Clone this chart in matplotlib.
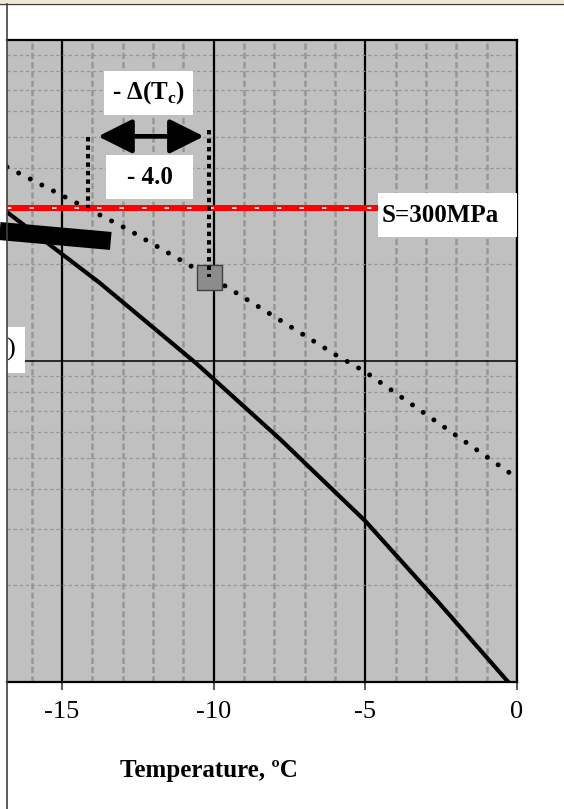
import numpy as np
import matplotlib
matplotlib.use("Agg")
import matplotlib.pyplot as plt
from matplotlib.patches import Rectangle
from matplotlib.lines import Line2D

plt.rcParams['font.family'] = ['Liberation Serif', 'DejaVu Serif']
plt.rcParams['lines.scale_dashes'] = False
plt.rcParams['mathtext.fontset'] = 'custom'
plt.rcParams['mathtext.rm'] = 'Liberation Serif:bold'
plt.rcParams['mathtext.bf'] = 'Liberation Serif:bold'

# data (temperature in C, stress in MPa)
solid_T = [-16.81, -13.75, -10.55, -7.81, -5.01, -2.54, -0.33, 0.0]
solid_S = [291, 175, 97.9, 57.1, 31.8, 17.5, 10.1, 9.4]

dotted_T = [-16.81, -12.86, -9.56, -5.97, -5.0, 0.0]
dotted_S = [402, 258, 170, 104.4, 92.5, 43.2]

stress_level = 300
Tc_ref = -14.14
Tc_shift = -10.14
marker_S = 183
guide_top_S = [500, 523]
arrow_T = [-13.81, -10.32]
arrow_S = 501

bar_T = [-17.05, -13.39]
bar_S = [254, 236.6]

xticks = [-15, -10, -5, 0]

W, H = 564, 809
fig = plt.figure(figsize=(W / 100, H / 100), dpi=100)
# plot area in pixels: x 7..517, y 40..682
ax = fig.add_axes([7 / W, (H - 682) / H, 510 / W, 642 / H])
ax.set_facecolor('#c0c0c0')
ax.set_yscale('log')
ax.set_xlim(-16.81, 0)
ax.set_ylim(10, 1000)

ax.set_xticks(xticks)
ax.set_xticks(np.arange(-16, 0, 1), minor=True)
ax.set_xticklabels([str(t) for t in xticks], fontsize=19)
ax.tick_params(axis='x', which='major', direction='out', length=5.5, width=1.2,
               pad=8, color='#404040')
ax.tick_params(axis='x', which='minor', length=0)
ax.tick_params(axis='y', which='both', left=False, labelleft=False)

ax.grid(which='major', axis='x', color='black', lw=1.6)
ax.grid(which='major', axis='y', color='black', lw=1.1)
ax.grid(which='minor', axis='x', color='#969696', lw=1.8, linestyle=(0, (4.5, 2.2)))
ax.grid(which='minor', axis='y', color='#969696', lw=0.9, linestyle=(0, (2.4, 2.0)))
ax.set_axisbelow(True)

for side in ['top', 'right', 'bottom']:
    ax.spines[side].set_linewidth(1.6)
    ax.spines[side].set_color('black')
ax.spines['left'].set_visible(False)

# curves
ax.plot(solid_T, solid_S, color='black', lw=3.0, solid_capstyle='butt',
        solid_joinstyle='round', zorder=3)
ax.plot(dotted_T, dotted_S, color='black', lw=3.6, linestyle=(0, (0.01, 9.4)),
        dash_capstyle='round', zorder=3)

# stress level line
ax.axhline(stress_level, color='red', lw=4.3, zorder=4)
ax.axhline(stress_level, color='white', lw=1.3, linestyle=(0, (3.2, 13)), zorder=4)

# shift marker and guide lines
ax.plot([Tc_shift], [marker_S], marker='s', ms=18, mfc='#8c8c8c', mec='#404040',
        mew=1.0, zorder=5)
ax.plot([Tc_ref, Tc_ref], [guide_top_S[0], stress_level], color='black', lw=2.9,
        linestyle=(0, (3.2, 2.9)), zorder=6)
ax.plot([Tc_shift, Tc_shift], [guide_top_S[1], marker_S], color='black', lw=2.9,
        linestyle=(0, (3.2, 2.9)), zorder=6)
ax.annotate('', xy=(arrow_T[1], arrow_S), xytext=(arrow_T[0], arrow_S),
            arrowprops=dict(arrowstyle='<|-|>,head_length=1.4,head_width=0.7',
                            lw=3.4, color='black', mutation_scale=15,
                            shrinkA=0, shrinkB=0), zorder=6)

# thick pointer bar coming in from the left
ax.plot(bar_T, bar_S, color='black', lw=13, solid_capstyle='butt', zorder=6,
        clip_on=False)


def frac(px, py):
    return (px - 7) / 510, (682 - py) / 642


def box(x0, y0, x1, y1):
    fx0, fy1 = frac(x0, y0)
    fx1, fy0 = frac(x1, y1)
    ax.add_patch(Rectangle((fx0, fy0), fx1 - fx0, fy1 - fy0, transform=ax.transAxes,
                           facecolor='white', edgecolor='none', zorder=7, clip_on=False))


box(104, 71, 193, 115)
box(106, 155, 193, 199)
box(378, 193, 517, 237)
box(-10, 327, 25, 373)

ax.text(*frac(148.5, 93), r'- Δ(T$_\mathrm{c}$)', fontsize=18, fontweight='bold',
        ha='center', va='center', transform=ax.transAxes, zorder=8)
ax.text(*frac(149.5, 177), '- 4.0', fontsize=18, fontweight='bold',
        ha='center', va='center', transform=ax.transAxes, zorder=8)
ax.text(*frac(382, 215), 'S=300MPa', fontsize=18, fontweight='bold',
        ha='left', va='center', transform=ax.transAxes, zorder=8)
ax.text(*frac(11, 349), ')', fontsize=19, ha='center', va='center',
        transform=ax.transAxes, zorder=8, clip_on=False)

fig.text(209 / W, 1 - 770 / H, 'Temperature, ºC', fontsize=18, fontweight='bold',
         ha='center', va='center')

# chart frame
fig.add_artist(Rectangle((0, 1 - 2.5 / H), 1, 2.5 / H, transform=fig.transFigure,
                         facecolor='#ece9d8', edgecolor='none'))
fig.add_artist(Line2D([0, 1], [1 - 3.5 / H] * 2, transform=fig.transFigure,
                      color='#404040', lw=1.0))
fig.add_artist(Line2D([6.5 / W] * 2, [0, 1 - 3.5 / H], transform=fig.transFigure,
                      color='#404040', lw=1.2))

fig.savefig('out.png', dpi=100)
